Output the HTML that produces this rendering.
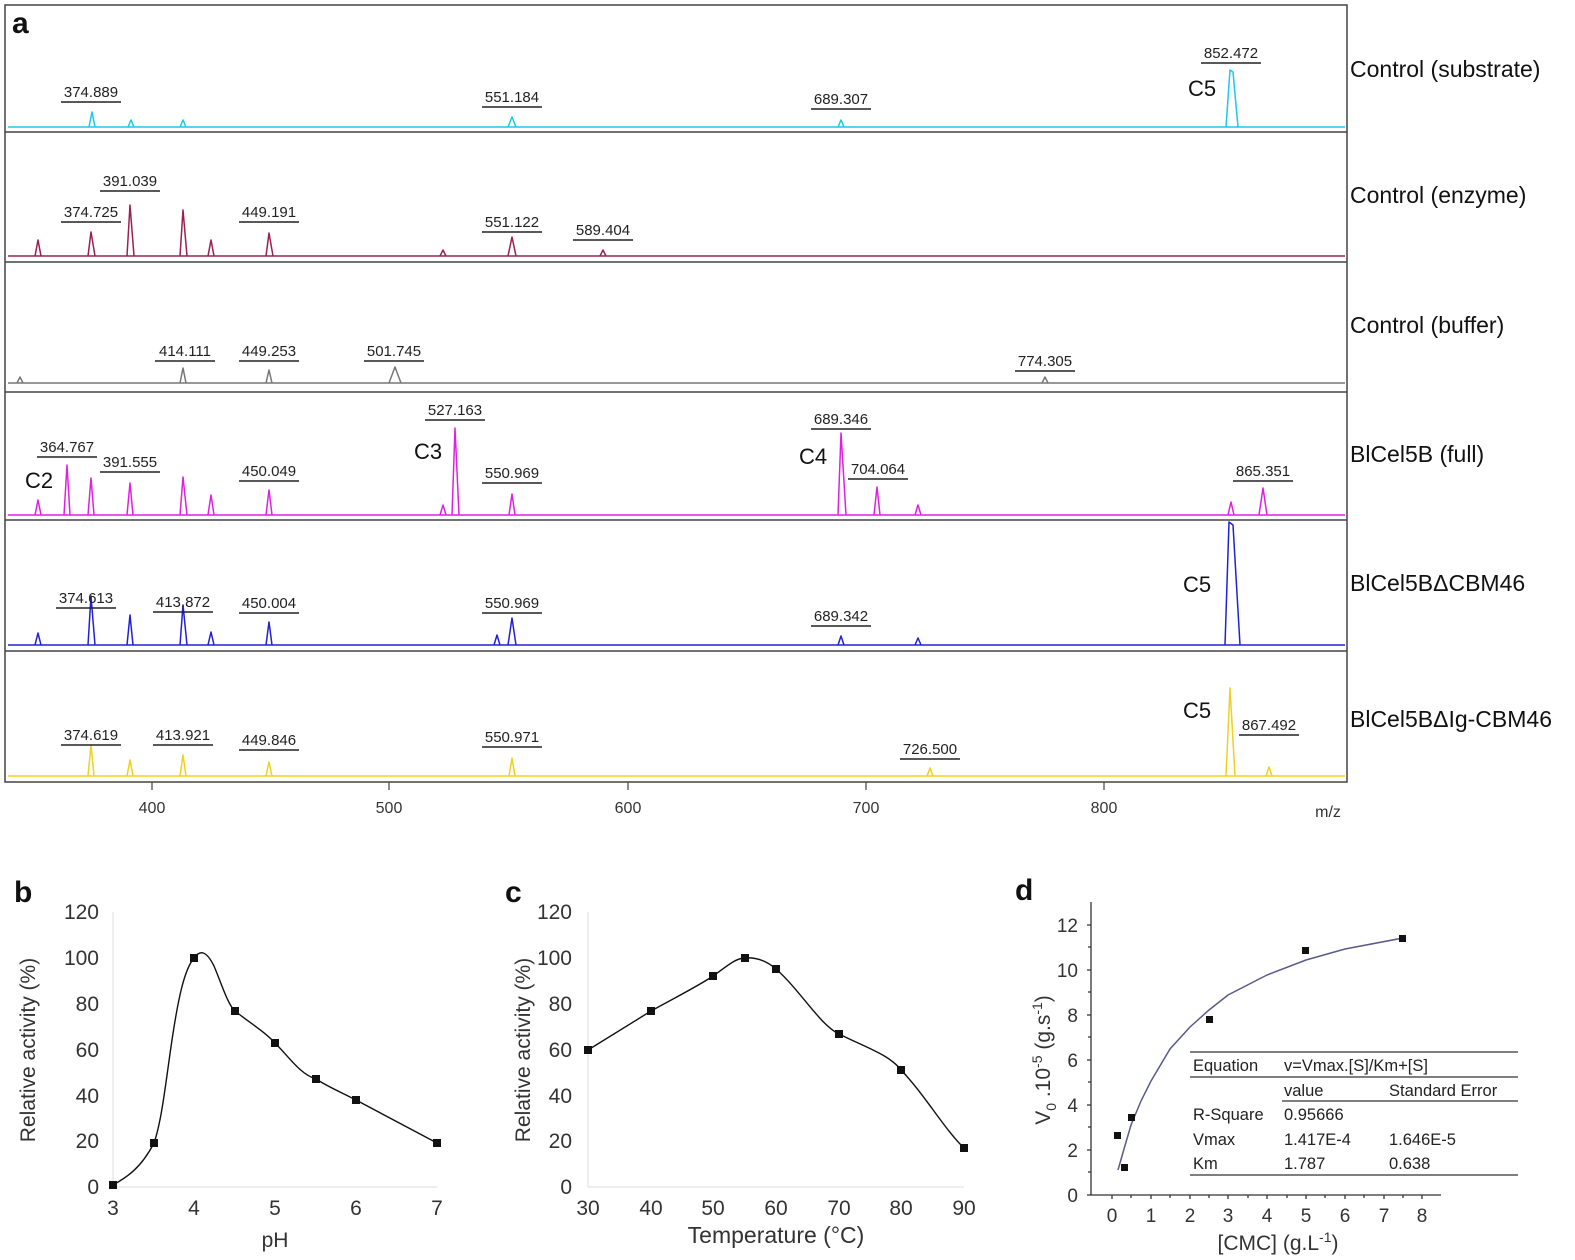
<!DOCTYPE html>
<html><head><meta charset="utf-8"><style>
body{margin:0;background:#fff}
svg{display:block;font-family:"Liberation Sans",Arial,sans-serif}
.l{font-size:15px;fill:#222;text-anchor:middle}
.u{stroke:#222;stroke-width:1.4}
.r{font-size:23px;fill:#111}
.c{font-size:22px;fill:#111}
.k{font-size:16px;fill:#333;text-anchor:middle}
.ax{font-size:21px;fill:#333}
</style></head><body>
<svg width="1575" height="1260" viewBox="0 0 1575 1260">
<rect x="5" y="5" width="1342" height="777" fill="none" stroke="#444" stroke-width="1.5"/>
<g stroke="#444" stroke-width="1.5">
<line x1="5" y1="132" x2="1347" y2="132"/><line x1="5" y1="262" x2="1347" y2="262"/>
<line x1="5" y1="392" x2="1347" y2="392"/><line x1="5" y1="520" x2="1347" y2="520"/>
<line x1="5" y1="651" x2="1347" y2="651"/>
</g>
<text x="12" y="33" font-size="30" font-weight="bold" fill="#111">a</text>
<g stroke="#444" stroke-width="1.2">
<line x1="152" y1="782" x2="152" y2="790"/><line x1="389" y1="782" x2="389" y2="790"/>
<line x1="628" y1="782" x2="628" y2="790"/><line x1="866" y1="782" x2="866" y2="790"/>
<line x1="1104" y1="782" x2="1104" y2="790"/>
</g>
<g class="k"><text x="152" y="813">400</text><text x="389" y="813">500</text><text x="628" y="813">600</text><text x="866" y="813">700</text><text x="1104" y="813">800</text><text x="1328" y="817">m/z</text></g>

<g fill="none" stroke-width="1.5" stroke-linejoin="round">
<path stroke="#1ec8e8" d="M8 127H1345 M89 127L92 112L95 127 M128 127L131 120L134 127 M180 127L183 120L186 127 M508 127L512 117L516 127 M838 127L841 120L844 127 M1226 127L1230 70L1233 72L1238 127"/>
<path stroke="#9b2050" d="M8 256H1345 M35 256L38 240L41 256 M88 256L91 232L95 256 M127 256L130 205L134 256 M180 256L183 210L187 256 M208 256L211 240L214 256 M266 256L269 233L273 256 M440 256L443 250L446 256 M508 256L512 237L516 256 M600 256L603 250L606 256"/>
<path stroke="#777" d="M8 383H1345 M17 383L20 377L23 383 M180 383L183 368L186 383 M266 383L269 370L272 383 M389 383L395 367L401 383 M1042 383L1045 377L1048 383"/>
<path stroke="#e020e0" d="M8 515H1345 M35 515L38 500L41 515 M64 515L67 465L70 515 M88 515L91 478L94 515 M127 515L130 483L133 515 M180 515L183 477L187 515 M208 515L211 495L214 515 M266 515L269 490L272 515 M440 515L443 505L446 515 M452 515L455 428L459 515 M509 515L512 494L515 515 M838 515L841 433L846 515 M874 515L877 487L880 515 M915 515L918 505L921 515 M1228 515L1231 502L1234 515 M1259 515L1263 488L1267 515"/>
<path stroke="#2020d8" d="M8 645H1345 M35 645L38 633L41 645 M88 645L91 596L95 645 M127 645L130 615L133 645 M180 645L183 605L187 645 M208 645L211 632L214 645 M266 645L269 622L272 645 M494 645L497 635L500 645 M508 645L512 618L516 645 M838 645L841 636L844 645 M915 645L918 638L921 645 M1225 645L1229 522L1233 525L1240 645"/>
<path stroke="#f0d020" d="M8 776H1345 M88 776L91 745L94 776 M127 776L130 760L133 776 M180 776L183 755L186 776 M266 776L269 762L272 776 M509 776L512 758L515 776 M927 776L930 768L933 776 M1226 776L1230 688L1235 776 M1266 776L1269 767L1272 776"/>
</g>

<g class="l">
<text x="91" y="97">374.889</text><text x="512" y="102">551.184</text><text x="841" y="104">689.307</text><text x="1231" y="58">852.472</text>
<text x="130" y="186">391.039</text><text x="91" y="217">374.725</text><text x="269" y="217">449.191</text><text x="512" y="227">551.122</text><text x="603" y="235">589.404</text>
<text x="185" y="356">414.111</text><text x="269" y="356">449.253</text><text x="394" y="356">501.745</text><text x="1045" y="366">774.305</text>
<text x="67" y="452">364.767</text><text x="130" y="467">391.555</text><text x="269" y="476">450.049</text><text x="455" y="415">527.163</text><text x="512" y="478">550.969</text><text x="841" y="424">689.346</text><text x="878" y="474">704.064</text><text x="1263" y="476">865.351</text>
<text x="86" y="603">374.613</text><text x="183" y="607">413.872</text><text x="269" y="608">450.004</text><text x="512" y="608">550.969</text><text x="841" y="621">689.342</text>
<text x="91" y="740">374.619</text><text x="183" y="740">413.921</text><text x="269" y="745">449.846</text><text x="512" y="742">550.971</text><text x="930" y="754">726.500</text><text x="1269" y="730">867.492</text>
</g>
<g class="u">
<path d="M61 102h60 M482 107h60 M811 109h60 M1201 63h60
M100 191h60 M61 222h60 M239 222h60 M482 232h60 M573 240h60
M155 361h60 M239 361h60 M364 361h60 M1015 371h60
M37 457h60 M100 472h60 M239 481h60 M425 420h60 M482 483h60 M811 429h60 M848 479h60 M1233 481h60
M56 608h60 M153 612h60 M239 613h60 M482 613h60 M811 626h60
M61 745h60 M153 745h60 M239 750h60 M482 747h60 M900 759h60 M1239 735h60"/>
</g>
<g class="c"><text x="1188" y="96">C5</text><text x="25" y="488">C2</text><text x="414" y="459">C3</text><text x="799" y="464">C4</text><text x="1183" y="592">C5</text><text x="1183" y="718">C5</text></g>
<g class="r"><text x="1350" y="77">Control  (substrate)</text><text x="1350" y="203">Control  (enzyme)</text><text x="1350" y="333">Control (buffer)</text><text x="1350" y="462">BlCel5B (full)</text><text x="1350" y="591">BlCel5BΔCBM46</text><text x="1350" y="727">BlCel5BΔIg-CBM46</text></g>

<!-- panel b -->
<text x="14" y="902" font-size="30" font-weight="bold" fill="#111">b</text>
<line x1="113" y1="912" x2="113" y2="1187" stroke="#ddd"/><line x1="113" y1="1187" x2="437" y2="1187" stroke="#ddd"/>
<g class="ax" text-anchor="end"><text x="99" y="919">120</text><text x="99" y="965">100</text><text x="99" y="1011">80</text><text x="99" y="1057">60</text><text x="99" y="1103">40</text><text x="99" y="1148">20</text><text x="99" y="1194">0</text></g>
<g class="ax" text-anchor="middle"><text x="113" y="1215">3</text><text x="194" y="1215">4</text><text x="275" y="1215">5</text><text x="356" y="1215">6</text><text x="437" y="1215">7</text><text x="275" y="1247">pH</text></g>
<text transform="translate(35,1050) rotate(-90)" class="ax" text-anchor="middle" font-size="24">Relative activity (%)</text>
<path fill="none" stroke="#111" stroke-width="1.4" d="M113 1185 C125 1178 140 1170 154 1143 C162 1120 166 1080 172 1040 C178 1000 184 970 194 958 C200 950 206 950 214 966 C222 985 228 1005 235 1011 C250 1023 265 1032 275 1043 C290 1058 300 1074 316 1079 C330 1088 345 1094 356 1100 L437 1143"/>
<g fill="#111"><rect x="109" y="1181" width="8" height="8"/><rect x="150" y="1139" width="8" height="8"/><rect x="190" y="954" width="8" height="8"/><rect x="231" y="1007" width="8" height="8"/><rect x="271" y="1039" width="8" height="8"/><rect x="312" y="1075" width="8" height="8"/><rect x="352" y="1096" width="8" height="8"/><rect x="433" y="1139" width="8" height="8"/></g>

<!-- panel c -->
<text x="505" y="902" font-size="30" font-weight="bold" fill="#111">c</text>
<line x1="588" y1="912" x2="588" y2="1187" stroke="#ddd"/><line x1="588" y1="1187" x2="964" y2="1187" stroke="#ddd"/>
<g class="ax" text-anchor="end"><text x="572" y="919">120</text><text x="572" y="965">100</text><text x="572" y="1011">80</text><text x="572" y="1057">60</text><text x="572" y="1103">40</text><text x="572" y="1148">20</text><text x="572" y="1194">0</text></g>
<g class="ax" text-anchor="middle"><text x="588" y="1215">30</text><text x="651" y="1215">40</text><text x="713" y="1215">50</text><text x="776" y="1215">60</text><text x="839" y="1215">70</text><text x="901" y="1215">80</text><text x="964" y="1215">90</text><text x="776" y="1243" font-size="23">Temperature (°C)</text></g>
<text transform="translate(530,1050) rotate(-90)" class="ax" text-anchor="middle" font-size="24">Relative activity (%)</text>
<path fill="none" stroke="#111" stroke-width="1.4" d="M588 1050 L651 1011 C680 995 700 985 713 976 C725 968 735 958 745 958 C758 957 768 962 776 969 C800 990 820 1025 839 1034 C865 1047 890 1055 901 1070 C925 1095 945 1130 964 1148"/>
<g fill="#111"><rect x="584" y="1046" width="8" height="8"/><rect x="647" y="1007" width="8" height="8"/><rect x="709" y="972" width="8" height="8"/><rect x="741" y="954" width="8" height="8"/><rect x="772" y="965" width="8" height="8"/><rect x="835" y="1030" width="8" height="8"/><rect x="897" y="1066" width="8" height="8"/><rect x="960" y="1144" width="8" height="8"/></g>

<!-- panel d -->
<text x="1015" y="900" font-size="30" font-weight="bold" fill="#111">d</text>
<g stroke="#333" stroke-width="1.3" fill="none">
<path d="M1091 902V1195H1441"/>
<path d="M1091 925h-4M1091 947h-3M1091 970h-4M1091 992h-3M1091 1015h-4M1091 1037h-3M1091 1060h-4M1091 1082h-3M1091 1105h-4M1091 1127h-3M1091 1150h-4M1091 1172h-3M1091 1195h-4"/>
<path d="M1112 1195v4M1131 1195v3M1151 1195v4M1170 1195v3M1190 1195v4M1209 1195v3M1228 1195v4M1248 1195v3M1267 1195v4M1287 1195v3M1306 1195v4M1325 1195v3M1345 1195v4M1364 1195v3M1384 1195v4M1403 1195v3M1422 1195v4"/>
</g>
<g class="ax" text-anchor="end" style="font-size:19px"><text x="1078" y="1202">0</text><text x="1078" y="1157">2</text><text x="1078" y="1112">4</text><text x="1078" y="1067">6</text><text x="1078" y="1022">8</text><text x="1078" y="977">10</text><text x="1078" y="932">12</text></g>
<g class="ax" text-anchor="middle" style="font-size:19px"><text x="1112" y="1222">0</text><text x="1151" y="1222">1</text><text x="1190" y="1222">2</text><text x="1228" y="1222">3</text><text x="1267" y="1222">4</text><text x="1306" y="1222">5</text><text x="1345" y="1222">6</text><text x="1384" y="1222">7</text><text x="1422" y="1222">8</text></g>
<text x="1278" y="1250" class="ax" text-anchor="middle" font-size="22">[CMC] (g.L<tspan dy="-8" font-size="14">-1</tspan><tspan dy="8">)</tspan></text>
<text transform="translate(1050,1060) rotate(-90)" class="ax" text-anchor="middle" font-size="22">V<tspan dy="6" font-size="14">0</tspan><tspan dy="-6"> .10</tspan><tspan dy="-8" font-size="14">-5</tspan><tspan dy="8"> (g.s</tspan><tspan dy="-8" font-size="14">-1</tspan><tspan dy="8">)</tspan></text>
<path fill="none" stroke="#5a5a8a" stroke-width="1.5" d="M1118 1170 L1124 1149 L1131 1125 L1141 1101 L1151 1081 L1170 1049 L1190 1027 L1209 1010 L1228 995 L1267 975 L1306 960 L1345 949 L1403 938"/>
<g fill="#111"><rect x="1114" y="1132" width="7" height="7"/><rect x="1121" y="1164" width="7" height="7"/><rect x="1128" y="1114" width="7" height="7"/><rect x="1206" y="1016" width="7" height="7"/><rect x="1302" y="947" width="7" height="7"/><rect x="1399" y="935" width="7" height="7"/></g>
<g stroke="#333" stroke-width="1.3"><line x1="1190" y1="1052" x2="1518" y2="1052"/><line x1="1190" y1="1077" x2="1518" y2="1077"/><line x1="1282" y1="1101" x2="1518" y2="1101"/><line x1="1190" y1="1175" x2="1518" y2="1175"/></g>
<g font-size="16.5" fill="#222">
<text x="1193" y="1071">Equation</text><text x="1284" y="1071">v=Vmax.[S]/Km+[S]</text>
<text x="1284" y="1096">value</text><text x="1389" y="1096">Standard Error</text>
<text x="1193" y="1120">R-Square</text><text x="1284" y="1120">0.95666</text>
<text x="1193" y="1145">Vmax</text><text x="1284" y="1145">1.417E-4</text><text x="1389" y="1145">1.646E-5</text>
<text x="1193" y="1169">Km</text><text x="1284" y="1169">1.787</text><text x="1389" y="1169">0.638</text>
</g>
</svg>
</body></html>
